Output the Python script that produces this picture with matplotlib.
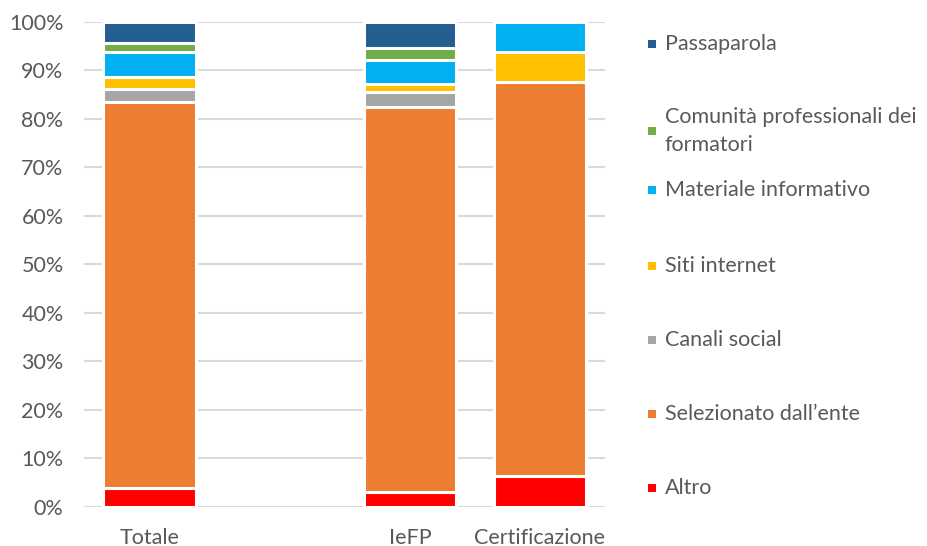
import matplotlib
matplotlib.use("Agg")
import matplotlib.pyplot as plt
from matplotlib.patches import Rectangle
import numpy as np

categories = ["Totale", "", "IeFP", "Certificazione"]
series_names = ["Altro", "Selezionato dall\u2019ente", "Canali social", "Siti internet",
                "Materiale informativo", "Comunità professionali dei\nformatori", "Passaparola"]
altro        = [3.9, np.nan, 3.1, 6.3]
selezionato  = [79.5, np.nan, 79.2, 81.3]
canali       = [2.6, np.nan, 3.2, 0.0]
siti         = [2.5, np.nan, 1.6, 6.1]
materiale    = [5.2, np.nan, 5.0, 6.3]
comunita     = [1.9, np.nan, 2.4, 0.0]
passaparola  = [4.4, np.nan, 5.5, 0.0]
colors = ["#ff0000", "#ed7d31", "#a5a5a5", "#ffc000", "#00b0f0", "#70ad47", "#255e91"]

values = [altro, selezionato, canali, siti, materiale, comunita, passaparola]

plt.rcParams['font.family'] = ['Lato', 'DejaVu Sans']
txt = "#595959"
fs = 15.5

fig = plt.figure(figsize=(9.28, 5.46), dpi=100)
ax = fig.add_axes([0.091, 0.0714, 0.561, 0.8892])

x = np.arange(len(categories))
bottom = np.zeros(len(categories))
for vals, col in zip(values, colors):
    v = np.nan_to_num(np.array(vals, dtype=float))
    mask = v > 0
    ax.bar(x[mask], v[mask], bottom=bottom[mask], width=0.71, color=col,
           edgecolor="white", linewidth=2.2, zorder=3)
    bottom += v

ax.set_xlim(-0.5, len(categories) - 0.5)
ax.set_ylim(0, 100)
ax.set_yticks(np.arange(0, 101, 10))
ax.set_yticklabels([f"{t}%" for t in range(0, 101, 10)])
ax.set_xticks(x)
ax.set_xticklabels(categories)
ax.grid(axis="y", color="#d9d9d9", linewidth=1.5, zorder=0)
for s in ax.spines.values():
    s.set_visible(False)
ax.tick_params(axis="both", length=0, labelsize=fs, labelcolor=txt)
ax.tick_params(axis="y", pad=15)
ax.tick_params(axis="x", pad=15)

# legend (top to bottom, reversed series order)
W, H = 928, 546
legend_y = [44, 131, 190, 266, 340, 414, 488]
for name, col, yy in zip(series_names[::-1], colors[::-1], legend_y):
    fig.add_artist(Rectangle(((648) / W, 1 - (yy + 4) / H), 8 / W, 8 / H,
                             transform=fig.transFigure, facecolor=col, edgecolor="none"))
    fig.text(665 / W, 1 - yy / H, name, ha="left", va="center", fontsize=fs,
             color=txt, linespacing=1.45)

fig.savefig("out.png", dpi=100)
